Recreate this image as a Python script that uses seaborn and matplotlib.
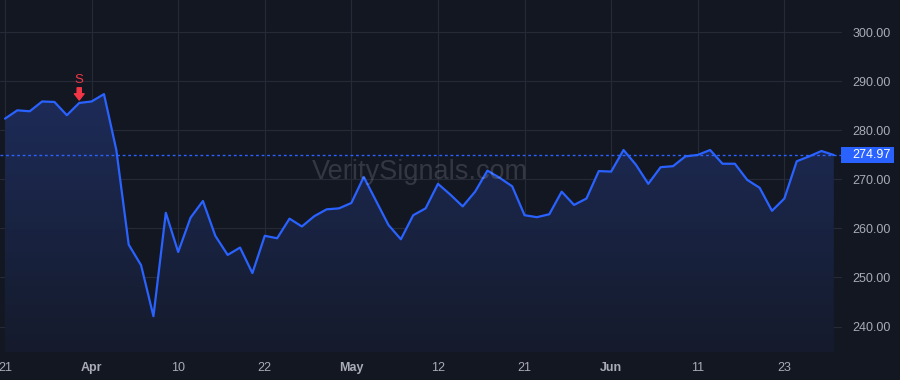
import numpy as np
import pandas as pd
import matplotlib
matplotlib.use("Agg")
import matplotlib.pyplot as plt
import matplotlib.transforms as mtransforms
from matplotlib.patches import Polygon, Rectangle
from matplotlib.colors import LinearSegmentedColormap
import seaborn as sns

# ---------------- data ----------------
prices = [282.4, 284.1, 283.9, 285.9, 285.8, 283.1, 285.6, 285.9, 287.4, 276.0,
          256.7, 252.5, 242.1, 263.2, 255.2, 262.2, 265.6, 258.5, 254.6, 256.1,
          250.9, 258.5, 258.0, 262.0, 260.4, 262.5, 263.9, 264.1, 265.2, 270.5,
          265.6, 260.7, 257.8, 262.7, 264.1, 269.1, 266.9, 264.5, 267.5, 271.8,
          270.3, 268.6, 262.7, 262.3, 262.9, 267.5, 264.8, 266.1, 271.7, 271.6,
          276.0, 273.0, 269.1, 272.5, 272.7, 274.7, 275.0, 276.0, 273.2, 273.2,
          269.9, 268.3, 263.6, 266.1, 273.7, 274.7, 275.8, 274.97]
tick_idx = [0, 7, 14, 21, 28, 35, 42, 49, 56, 63]
tick_labels = ["21", "Apr", "10", "22", "May", "12", "21", "Jun", "11", "23"]
month_labels = ["Apr", "May", "Jun"]
y_ticks = [240, 250, 260, 270, 280, 290, 300]
last_price = 274.97
signal_idx = 6
signal_label = "S"
watermark = "VeritySignals.com"

# ---------------- style ----------------
BG = "#131722"
GRID = "#252a36"
LINE = "#2962ff"
TXT = "#a9acb5"
RED = "#f23645"

sns.set_theme(style="dark", rc={"axes.facecolor": BG, "figure.facecolor": BG})
plt.rcParams["font.family"] = ["Liberation Sans", "DejaVu Sans"]

fig = plt.figure(figsize=(9, 3.8), dpi=100, facecolor=BG)
ax = fig.add_axes([0, 28 / 380, 842 / 900, 352 / 380])
ax.set_facecolor(BG)

df = pd.DataFrame({"idx": np.arange(len(prices)), "price": prices})
n = len(prices)
xmin, xmax = -0.404, 67.66
ymin, ymax = 234.8, 306.6

# gradient area fill
verts = [(0, ymin)] + list(zip(df["idx"], df["price"])) + [(n - 1, ymin)]
poly = Polygon(verts, closed=True, facecolor="none", edgecolor="none")
ax.add_patch(poly)
cmap = LinearSegmentedColormap.from_list("g", ["#151b2c", "#1d2b58"])
grad = np.linspace(0, 1, 256).reshape(-1, 1)
im = ax.imshow(grad, extent=[0, n - 1, ymin, max(prices)], aspect="auto",
               cmap=cmap, origin="lower", zorder=1, interpolation="bilinear")
im.set_clip_path(poly)

# line
sns.lineplot(data=df, x="idx", y="price", color=LINE, linewidth=1.6, ax=ax, zorder=4)

# last price dotted line
ax.axhline(last_price, color=LINE, linewidth=1.0, linestyle=(0, (2, 2)), zorder=3)

ax.set_xlim(xmin, xmax)
ax.set_ylim(ymin, ymax)

# grid & ticks
ax.set_xticks(tick_idx)
ax.set_xticklabels(tick_labels)
ax.set_yticks(y_ticks)
ax.set_yticklabels([f"{v:.2f}" for v in y_ticks])
ax.yaxis.tick_right()
ax.grid(True, color=GRID, linewidth=0.8, zorder=0)
ax.set_axisbelow(True)
ax.tick_params(axis="both", length=0, colors=TXT, labelsize=9)
ax.tick_params(axis="y", pad=7.5)
ax.tick_params(axis="x", pad=7)
for lab in ax.get_xticklabels():
    if lab.get_text() in month_labels:
        lab.set_fontweight("bold")
for s in ax.spines.values():
    s.set_visible(False)
ax.set_xlabel("")
ax.set_ylabel("")

# watermark
fig.text(420 / 900, 1 - 172 / 380, watermark, color="white", alpha=0.14,
         fontsize=19.5, ha="center", va="center", zorder=2)

# signal marker
ax.text(signal_idx, 290.3, signal_label, color=RED, ha="center", va="center",
        fontsize=9.5, zorder=5)
ax.annotate("", xy=(signal_idx, 286.2), xytext=(signal_idx, 288.7),
            arrowprops=dict(arrowstyle="simple,head_width=0.7,head_length=0.45,tail_width=0.3",
                            color=RED, shrinkA=0, shrinkB=0, mutation_scale=10),
            zorder=5)

# last price label box
trans = mtransforms.blended_transform_factory(fig.transFigure, ax.transData)
h = 16.5 / 4.9
box = Rectangle((841 / 900, last_price - h / 2), 53 / 900, h, transform=trans,
                facecolor=LINE, edgecolor="none", clip_on=False, zorder=6)
fig.patches.append(box)
fig.text(852 / 900, last_price, f"{last_price:.2f}", transform=trans, color="white",
         fontsize=9, ha="left", va="center", zorder=7)

fig.savefig("out.png", dpi=100, facecolor=BG)
